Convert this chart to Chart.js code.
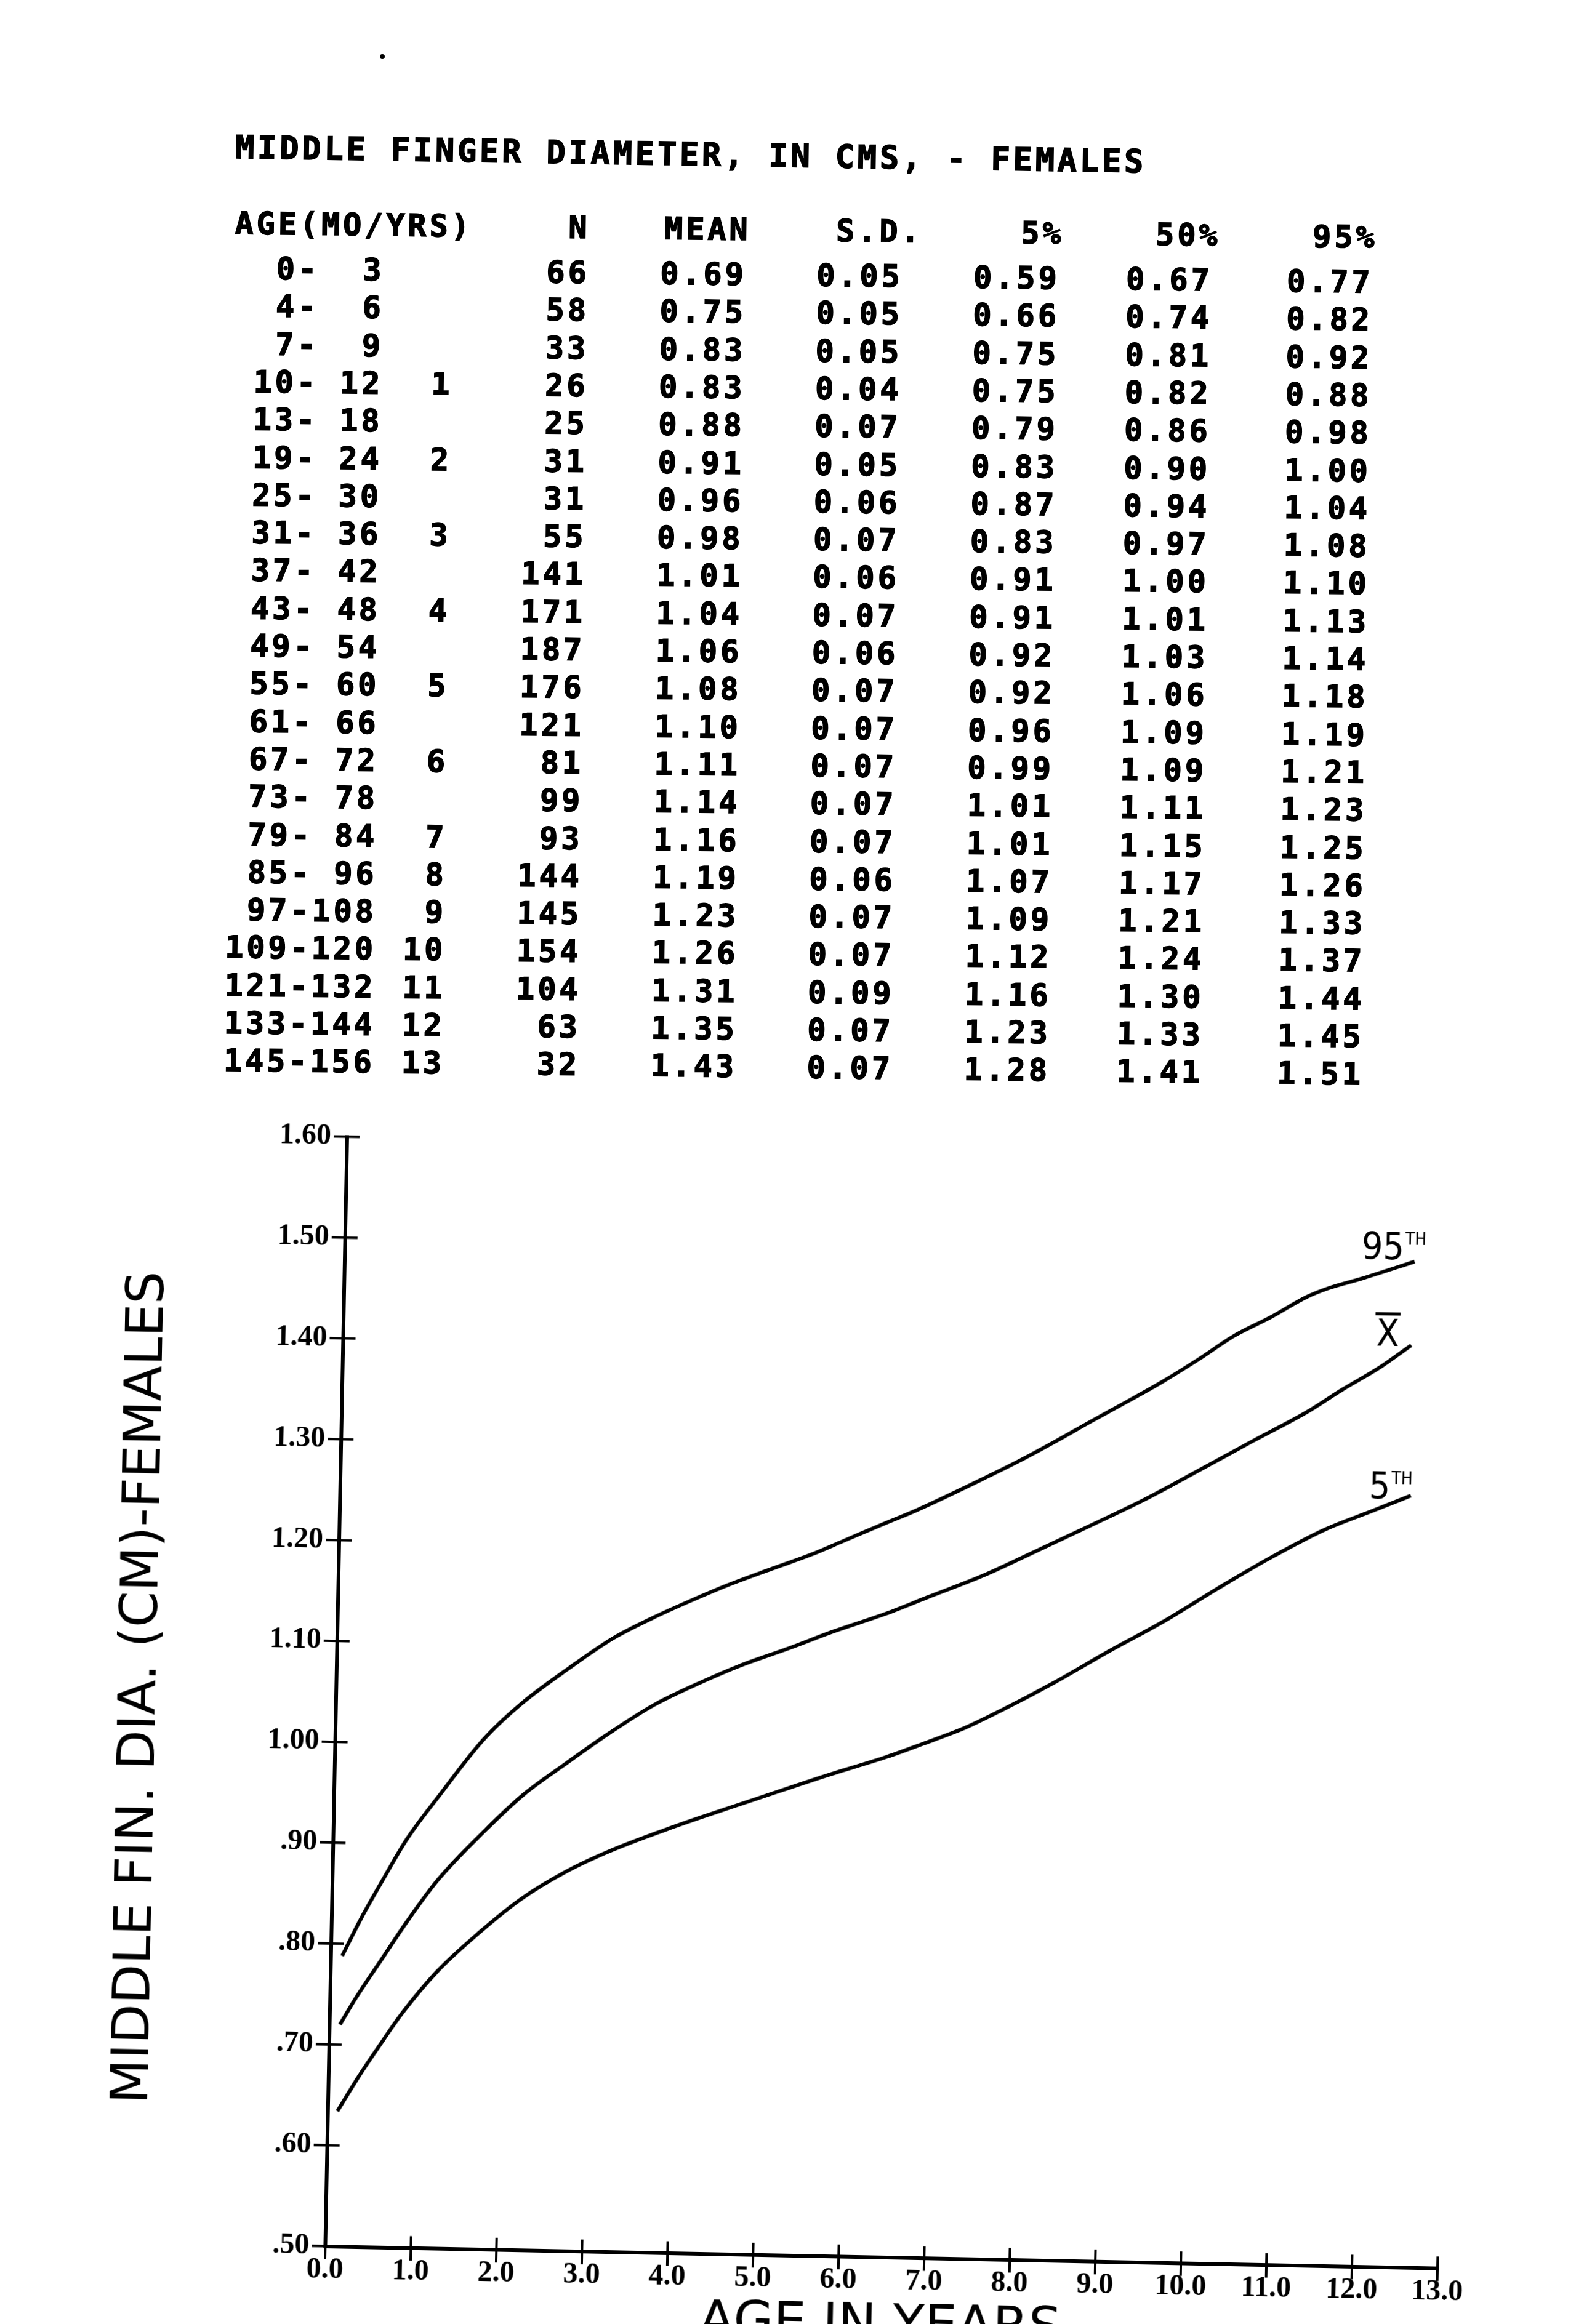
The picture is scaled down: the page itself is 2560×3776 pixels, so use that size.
<!DOCTYPE html>
<html>
<head>
<meta charset="utf-8">
<title>Middle finger diameter - females</title>
<script src="https://cdn.jsdelivr.net/npm/chart.js@4.4.1/dist/chart.umd.min.js"></script>
<style>
  html, body { margin: 0; padding: 0; background: #fff; overflow: hidden; }
  body { width: 2560px; height: 3776px; position: relative; }
  .mono { font-family: 'DejaVu Sans Mono', monospace; font-weight: bold; color: #000; white-space: pre;
          -webkit-text-stroke: 1.5px #000; }
  #title { position: absolute; left: 382px; top: 213px; font-size: 52px; line-height: 52px;
           letter-spacing: 4.8px; transform-origin: 0 26px; transform: rotate(0.9deg); }
  #table { position: absolute; left: 380px; top: 340px; width: 1900px; height: 1420px;
           font-size: 50px; line-height: 50px; letter-spacing: 5px;
           transform-origin: 0 0; transform: rotate(0.7deg); }
  #table span { position: absolute; }
  #table span.r { width: 400px; text-align: right; }
  #chartWrap { position: absolute; left: 150px; top: 1780px; width: 2300px; height: 2080px;
               transform-origin: 1299.5px 986px; transform: rotate(1.13deg); }
  #chart { width: 2300px; height: 2080px; display: block; }
  .speck { position: absolute; background: #000; border-radius: 50%; }
</style>
</head>
<body>

<div id="title" class="mono">MIDDLE FINGER DIAMETER, IN CMS, - FEMALES</div>
<div id="table" class="mono"></div>
<div class="speck" style="left:617px;top:88px;width:8px;height:8px"></div>

<div id="chartWrap">
  <canvas id="chart" width="2300" height="2080"></canvas>
</div>

<script>
/* ================================================================
   Table — age groups (months / years) and statistics
   ================================================================ */
const AGE_FROM = [0, 4, 7, 10, 13, 19, 25, 31, 37, 43, 49, 55, 61, 67, 73, 79, 85, 97, 109, 121, 133, 145];
const AGE_TO   = [3, 6, 9, 12, 18, 24, 30, 36, 42, 48, 54, 60, 66, 72, 78, 84, 96, 108, 120, 132, 144, 156];
const AGE_YRS  = ['', '', '', 1, '', 2, '', 3, '', 4, '', 5, '', 6, '', 7, 8, 9, 10, 11, 12, 13];
const N        = [66, 58, 33, 26, 25, 31, 31, 55, 141, 171, 187, 176, 121, 81, 99, 93, 144, 145, 154, 104, 63, 32];
const MEAN     = [0.69, 0.75, 0.83, 0.83, 0.88, 0.91, 0.96, 0.98, 1.01, 1.04, 1.06, 1.08, 1.10, 1.11, 1.14, 1.16, 1.19, 1.23, 1.26, 1.31, 1.35, 1.43];
const SD       = [0.05, 0.05, 0.05, 0.04, 0.07, 0.05, 0.06, 0.07, 0.06, 0.07, 0.06, 0.07, 0.07, 0.07, 0.07, 0.07, 0.06, 0.07, 0.07, 0.09, 0.07, 0.07];
const P5       = [0.59, 0.66, 0.75, 0.75, 0.79, 0.83, 0.87, 0.83, 0.91, 0.91, 0.92, 0.92, 0.96, 0.99, 1.01, 1.01, 1.07, 1.09, 1.12, 1.16, 1.23, 1.28];
const P50      = [0.67, 0.74, 0.81, 0.82, 0.86, 0.90, 0.94, 0.97, 1.00, 1.01, 1.03, 1.06, 1.09, 1.09, 1.11, 1.15, 1.17, 1.21, 1.24, 1.30, 1.33, 1.41];
const P95      = [0.77, 0.82, 0.92, 0.88, 0.98, 1.00, 1.04, 1.08, 1.10, 1.13, 1.14, 1.18, 1.19, 1.21, 1.23, 1.25, 1.26, 1.33, 1.37, 1.44, 1.45, 1.51];

/* ================================================================
   Chart — smoothed curves (age in years, cm)
   ================================================================ */
const CURVE_AGE_95 = [0.13, 0.34, 0.60, 0.86, 1.23, 1.73, 2.16, 2.72, 3.22, 3.68, 4.10, 4.55, 5.06, 5.52, 5.89, 6.39, 6.74, 7.50, 7.91, 8.33, 8.75, 9.16, 9.58, 10.00, 10.41, 10.83, 11.25, 11.50, 11.88, 12.50];
const CURVE_95     = [0.788, 0.825, 0.866, 0.905, 0.949, 1.005, 1.041, 1.078, 1.108, 1.129, 1.146, 1.163, 1.180, 1.195, 1.209, 1.228, 1.241, 1.273, 1.291, 1.311, 1.332, 1.352, 1.373, 1.396, 1.420, 1.439, 1.460, 1.469, 1.479, 1.497];

const CURVE_AGE_MEAN = [0.12, 0.31, 0.62, 0.87, 1.23, 1.77, 2.22, 2.70, 3.20, 3.72, 4.28, 4.70, 5.29, 5.79, 6.41, 6.89, 7.52, 8.15, 8.77, 9.40, 10.03, 10.65, 11.28, 11.69, 12.11, 12.48];
const CURVE_MEAN     = [0.720, 0.748, 0.789, 0.822, 0.865, 0.915, 0.952, 0.983, 1.014, 1.043, 1.067, 1.083, 1.102, 1.119, 1.138, 1.155, 1.177, 1.203, 1.229, 1.256, 1.286, 1.316, 1.346, 1.369, 1.391, 1.414];

const CURVE_AGE_5 = [0.11, 0.36, 0.58, 0.85, 1.24, 1.73, 2.21, 2.73, 3.23, 3.90, 4.28, 4.91, 5.74, 6.45, 6.85, 7.35, 7.77, 8.39, 9.02, 9.64, 10.27, 10.89, 11.52, 12.06, 12.51];
const CURVE_5     = [0.634, 0.670, 0.699, 0.733, 0.774, 0.814, 0.848, 0.876, 0.897, 0.920, 0.932, 0.951, 0.976, 0.996, 1.009, 1.026, 1.044, 1.073, 1.105, 1.135, 1.169, 1.201, 1.230, 1.249, 1.265];

const X_TICKS = [0, 1, 2, 3, 4, 5, 6, 7, 8, 9, 10, 11, 12, 13];
const Y_TICKS = [0.5, 0.6, 0.7, 0.8, 0.9, 1.0, 1.1, 1.2, 1.3, 1.4, 1.5, 1.6];
/* ================================================================ */


// ── Table ──────────────────────────────────────────────────────
const TABLE_X = 380, TABLE_Y = 340;
const tableEl = document.getElementById('table');

function put(text, x, y, alignRight) {
  const s = document.createElement('span');
  s.textContent = text;
  s.style.top = (y - TABLE_Y) + 'px';
  if (alignRight) {
    s.className = 'r';
    s.style.left = (x - TABLE_X + 7 - 400) + 'px';
  } else {
    s.style.left = (x - TABLE_X) + 'px';
  }
  tableEl.appendChild(s);
}

put('AGE(MO/YRS)', 382, 338, false);
put('N',    952, 338, true);
put('MEAN', 1213, 338, true);
put('S.D.', 1492, 338, true);
put('5%',   1722, 338, true);
put('50%',  1976, 338, true);
put('95%',  2231, 338, true);

const f2 = v => v.toFixed(2);
AGE_FROM.forEach((from, i) => {
  const y = 411 + 61.3 * i;
  put(String(from).padStart(3) + '-' + String(AGE_TO[i]).padStart(3), 380, y, false);
  put(String(AGE_YRS[i]), 732, y, true);
  put(String(N[i]), 952, y, true);
  put(f2(MEAN[i]), 1207, y, true);
  put(f2(SD[i]),   1461, y, true);
  put(f2(P5[i]),   1716, y, true);
  put(f2(P50[i]),  1964, y, true);
  put(f2(P95[i]),  2225, y, true);
});


// ── Chart ──────────────────────────────────────────────────────
const pts = (xs, ys) => xs.map((x, i) => ({ x, y: ys[i] }));

const TICK_FONT  = { family: "'Liberation Serif', 'DejaVu Serif', serif", size: 48, weight: 'bold' };
const TITLE_FONT = { family: "'DejaVu Sans', sans-serif", size: 84 };

// tick marks that cross the axis line, like the plotter drew them
const crossTicks = {
  id: 'crossTicks',
  afterDraw(chart) {
    const { ctx, chartArea: a, scales: { x, y } } = chart;
    ctx.save();
    ctx.strokeStyle = '#000';
    ctx.lineWidth = 4;
    ctx.beginPath();
    X_TICKS.forEach(v => {
      const px = x.getPixelForValue(v);
      ctx.moveTo(px, a.bottom - 19);
      ctx.lineTo(px, a.bottom + 21);
    });
    Y_TICKS.forEach(v => {
      const py = y.getPixelForValue(v);
      ctx.moveTo(a.left - 22, py);
      ctx.lineTo(a.left + 20, py);
    });
    ctx.stroke();
    ctx.restore();
  }
};

// hand-lettered curve names at the right end of each curve
const CURVE_LABELS = [
  { main: '95', sup: 'TH', age: 11.88, value: 1.499 },
  { main: 'X', bar: true,  age: 12.07, value: 1.413 },
  { main: '5',  sup: 'TH', age: 12.02, value: 1.262 },
];
const curveLabels = {
  id: 'curveLabels',
  afterDatasetsDraw(chart) {
    const { ctx, scales: { x, y } } = chart;
    ctx.save();
    ctx.fillStyle = '#000';
    ctx.strokeStyle = '#000';
    ctx.textAlign = 'left';
    ctx.textBaseline = 'alphabetic';
    CURVE_LABELS.forEach(l => {
      const px = x.getPixelForValue(l.age);
      const py = y.getPixelForValue(l.value);
      ctx.font = "60px 'DejaVu Sans Condensed', 'DejaVu Sans', sans-serif";
      ctx.fillText(l.main, px, py);
      const w = ctx.measureText(l.main).width;
      if (l.sup) {
        ctx.font = "28px 'DejaVu Sans Condensed', 'DejaVu Sans', sans-serif";
        ctx.fillText(l.sup, px + w + 2, py - 24);
      }
      if (l.bar) {
        ctx.lineWidth = 5;
        ctx.beginPath();
        ctx.moveTo(px - 2, py - 52);
        ctx.lineTo(px + w + 2, py - 52);
        ctx.stroke();
      }
    });
    ctx.restore();
  }
};

const lineSet = (label, data) => ({
  label, data,
  borderColor: '#000',
  borderWidth: 6,
  pointRadius: 0,
  fill: false,
  cubicInterpolationMode: 'monotone',
});

new Chart(document.getElementById('chart'), {
  type: 'line',
  data: {
    datasets: [
      lineSet('95TH', pts(CURVE_AGE_95, CURVE_95)),
      lineSet('MEAN', pts(CURVE_AGE_MEAN, CURVE_MEAN)),
      lineSet('5TH',  pts(CURVE_AGE_5, CURVE_5)),
    ],
  },
  options: {
    responsive: false,
    animation: false,
    layout: { padding: { left: 0, top: 84.5, right: 97, bottom: 0 } },
    plugins: { legend: { display: false }, tooltip: { enabled: false } },
    scales: {
      x: {
        type: 'linear',
        min: 0, max: 13,
        afterBuildTicks: s => { s.ticks = X_TICKS.map(v => ({ value: v })); },
        afterFit: s => { s.height = 192.5; },
        grid: { display: false, drawTicks: false },
        border: { display: true, color: '#000', width: 6 },
        ticks: {
          color: '#000', font: TICK_FONT, padding: 10,
          autoSkip: false, maxRotation: 0,
          callback: v => Number(v).toFixed(1),
        },
        title: {
          display: true, text: 'AGE IN YEARS', color: '#000',
          font: TITLE_FONT, padding: { top: 0, bottom: 28 },
        },
      },
      y: {
        type: 'linear',
        min: 0.5, max: 1.6,
        afterBuildTicks: s => { s.ticks = Y_TICKS.map(v => ({ value: v })); },
        afterFit: s => { s.width = 396; },
        grid: { display: false, drawTicks: false },
        border: { display: true, color: '#000', width: 6 },
        ticks: {
          color: '#000', font: TICK_FONT, padding: 26, autoSkip: false,
          callback: v => {
            const t = Number(v).toFixed(2);
            return v < 1 ? t.replace(/^0/, '') : t;
          },
        },
        title: {
          display: true, text: 'MIDDLE FIN. DIA. (CM)-FEMALES', color: '#000',
          font: TITLE_FONT, padding: { top: 30, bottom: 0 },
        },
      },
    },
  },
  plugins: [crossTicks, curveLabels],
});
</script>
</body>
</html>
